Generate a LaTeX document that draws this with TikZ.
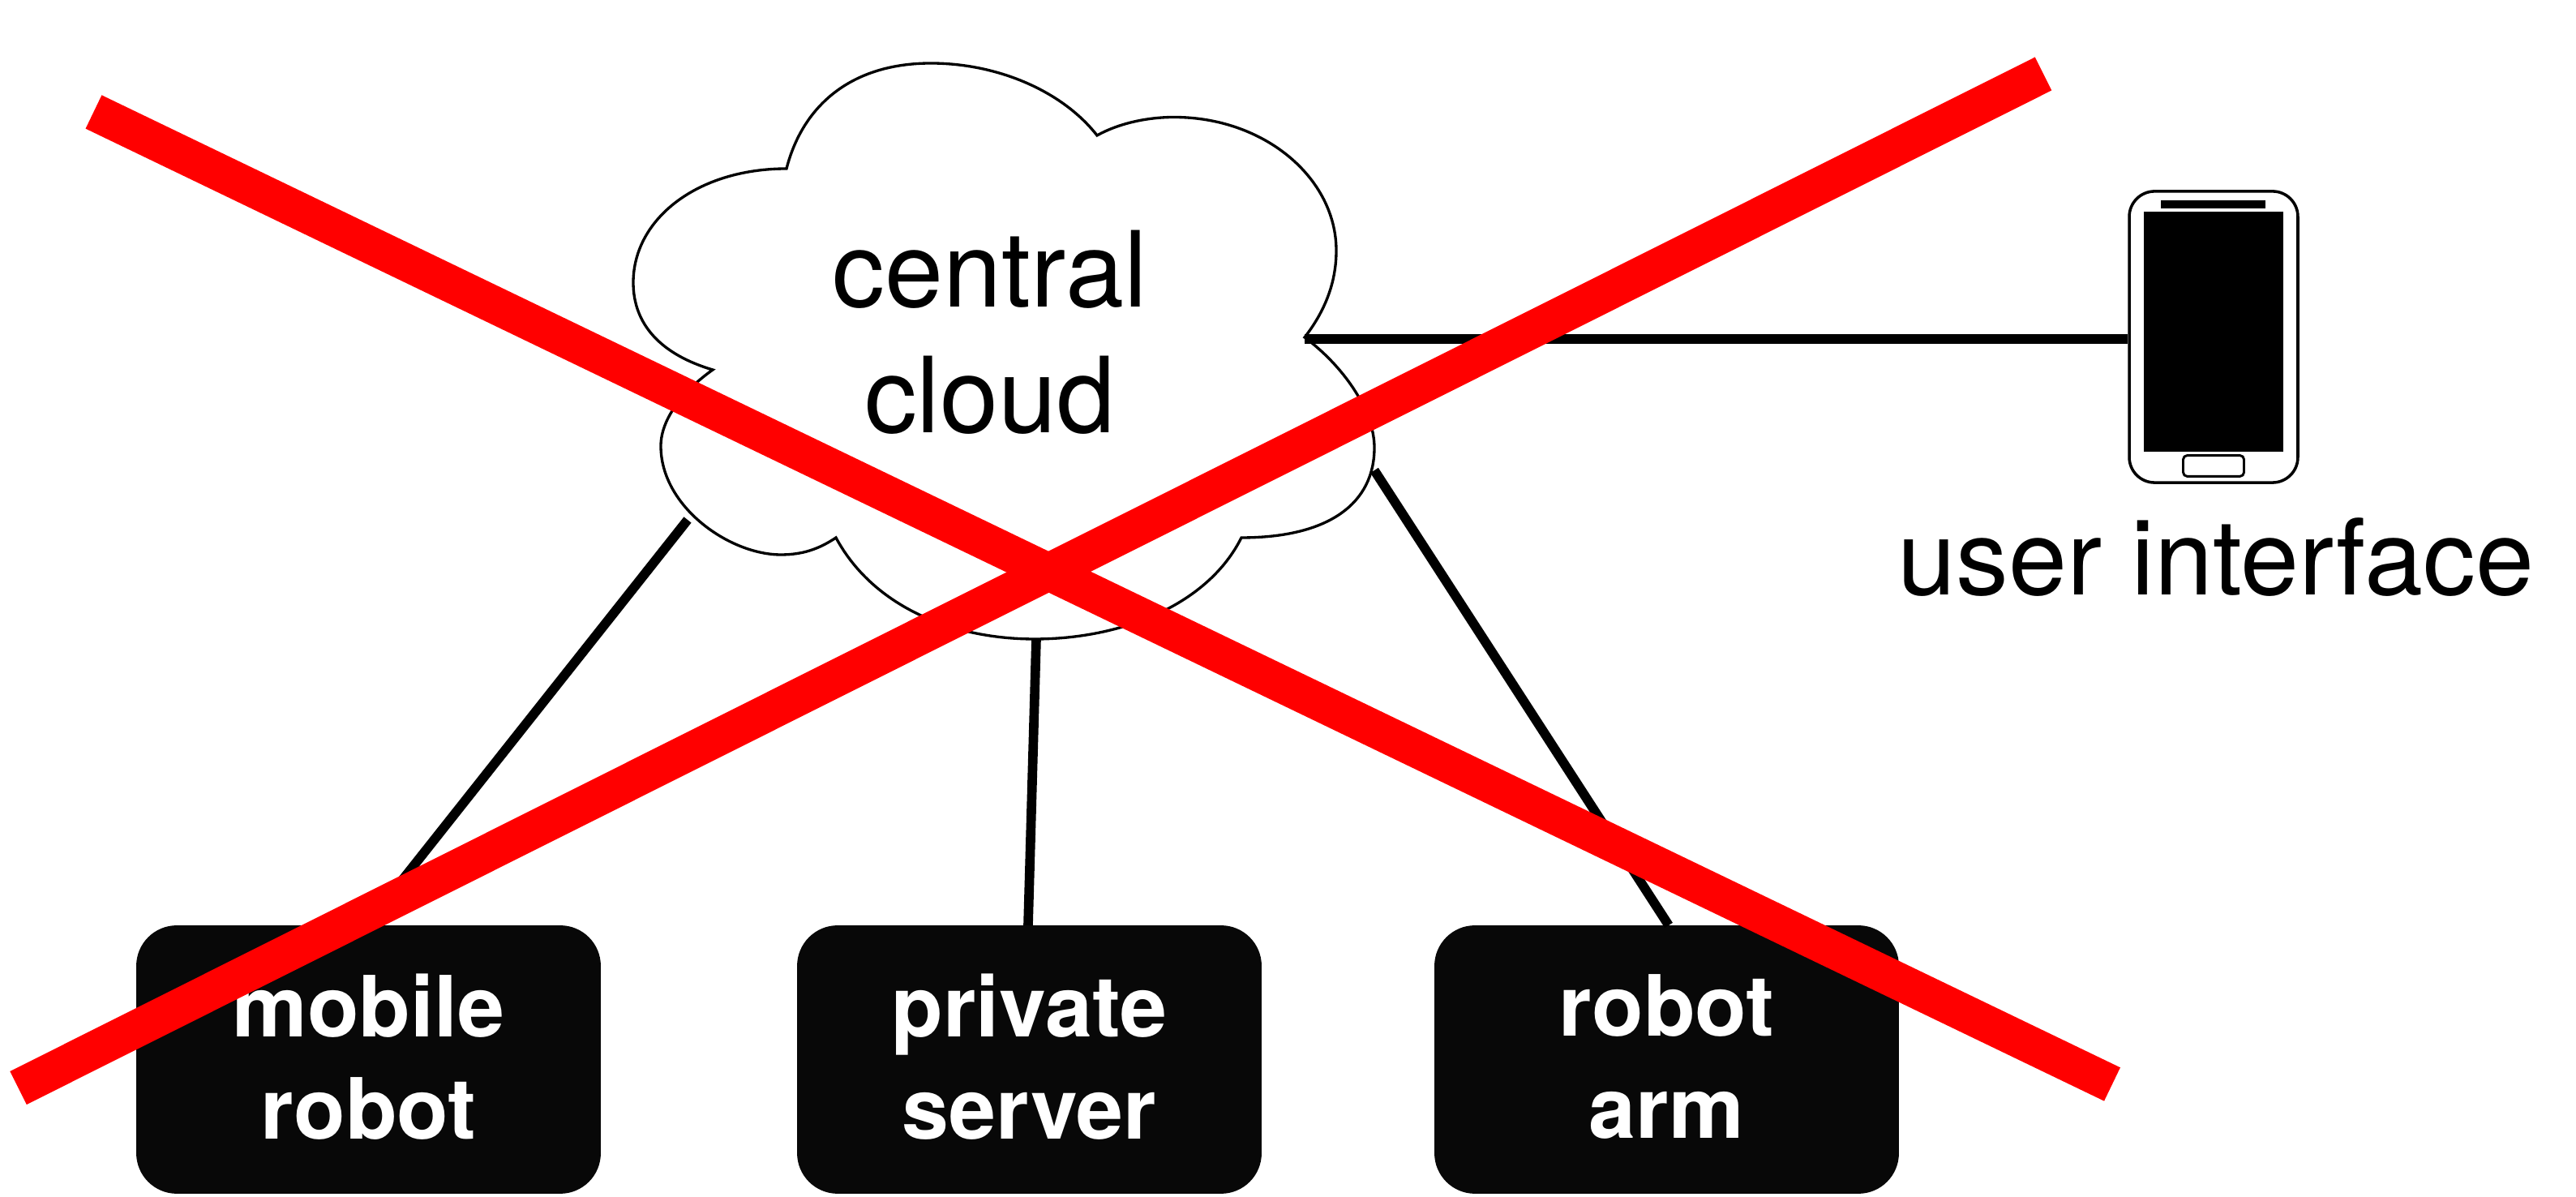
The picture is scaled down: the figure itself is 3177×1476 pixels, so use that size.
\documentclass[tikz,border=0pt]{standalone}
\usepackage{fontspec}
\setmainfont{TeX Gyre Heros}
\definecolor{boxblack}{HTML}{080808}
\definecolor{crossred}{HTML}{FF0000}
\tikzset{
  boxnode/.style={draw=none,fill=boxblack,rounded corners=12pt,minimum width=137.5pt,minimum height=79.4pt,inner sep=0pt},
  boxtext/.style={inner sep=0pt,align=center,text=white,font=\bfseries\fontsize{25}{30.3}\selectfont},
  labelnode/.style={inner sep=0pt,align=center,text=black,font=\fontsize{31.1}{37.2}\selectfont},
  link/.style={draw=black,line width=2.8pt},
  crossbar/.style={draw=crossred,line width=11pt,line cap=butt},
  phonepart/.style={draw=black,line width=0.85pt,fill=white,inner sep=0pt},
  phoneblack/.style={draw=none,fill=black,inner sep=0pt}
}
\begin{document}
\begin{tikzpicture}[x=0.24pt,y=-0.24pt]
\useasboundingbox (0,0) rectangle (3177,1476);
% cloud
\coordinate (cloudA) at (970,208);
\coordinate (cloudC) at (1609,418);
\coordinate (cloudL) at (848,641);
\coordinate (cloudB) at (1278,788);
\coordinate (cloudR) at (1695,580);
\draw[draw=black,line width=0.8pt,fill=white,line join=miter]
  (cloudA) .. controls (990,130) and (1050,78) .. (1148,78)
  .. controls (1230,78) and (1310,112) .. (1353,167)
  .. controls (1380,152) and (1415,144.5) .. (1448,144.5)
  .. controls (1560,144.5) and (1648,220) .. (1648,309)
  .. controls (1648,350) and (1633,385) .. (1609,416)
  .. controls (1655,450) and (1695,505) .. (1695,552)
  .. controls (1695,620) and (1640,663) .. (1531,663)
  .. controls (1490,745) and (1385,788) .. (1276,788)
  .. controls (1170,788) and (1075,745) .. (1031,663)
  .. controls (1010,677) and (990,684) .. (963,684)
  .. controls (900,684) and (815,625) .. (815,550)
  .. controls (815,515) and (845,480) .. (879,456)
  .. controls (815,437) and (781,400) .. (781,348.5)
  .. controls (781,270) and (860,208) .. (cloudA) -- cycle;
\node[labelnode] (cloudtext) at (1221,410) {central\\cloud};
% boxes
\node[boxnode] (mobile) at (454.5,1306.5) {};
\node[boxnode] (private) at (1269.5,1306.5) {};
\node[boxnode] (arm) at (2055.5,1306.5) {};
\node[boxtext] (mobiletext) at (454.5,1303) {mobile\\robot};
\node[boxtext] (privatetext) at (1269.5,1303) {private\\server};
\node[boxtext] (armtext) at (2055.5,1303) {robot\\arm};
% phone
\node[phonepart,minimum width=49.9pt,minimum height=86.2pt,rounded corners=7.5pt] (phone) at (2730,415.5) {};
\node[phoneblack,minimum width=41.1pt,minimum height=71pt] (screen) at (2730,409) {};
\node[phoneblack,minimum width=31pt,minimum height=2.4pt] (speaker) at (2729.5,252) {};
\node[phonepart,line width=0.7pt,minimum width=18pt,minimum height=6.2pt,rounded corners=1.2pt] (homebutton) at (2730,574.5) {};
\node[labelnode,anchor=base] (uilabel) at (2733,734) {user interface};
% connectors
\draw[link] (cloudC) -- (cloudC -| phone.west);
\draw[link] (cloudL) -- (452,1141);
\draw[link] (cloudB) -- (1268,1141);
\draw[link] (cloudR) -- (2058,1141);
% red cross
\coordinate (redAa) at (115.5,138);
\coordinate (redAb) at (2605,1337);
\coordinate (redBa) at (22.6,1341.5);
\coordinate (redBb) at (2520,91);
\draw[crossbar] (redAa) -- (redAb);
\draw[crossbar] (redBa) -- (redBb);
\end{tikzpicture}
\end{document}
